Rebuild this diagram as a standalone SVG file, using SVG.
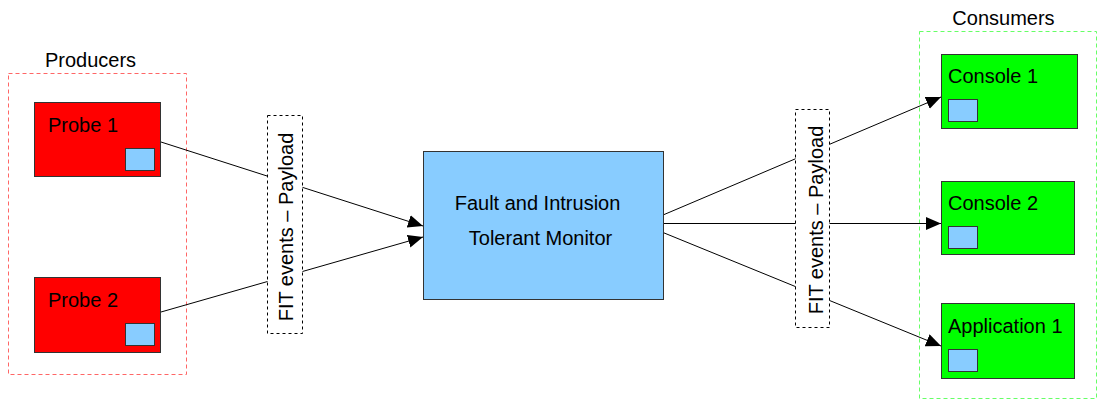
<svg xmlns="http://www.w3.org/2000/svg" width="1098" height="401" viewBox="0 0 1098 401">
  <style>
    text { font-family: "Liberation Sans", Arial, sans-serif; font-size: 20px; fill: #000; }
    .probe { fill: #ff0000; stroke: #333; stroke-width: 1; }
    .consumer { fill: #00ff00; stroke: #333; stroke-width: 1; }
    .port { fill: #88ccff; stroke: #333; stroke-width: 1; }
    .monitor { fill: #88ccff; stroke: #333; stroke-width: 1; }
    .edge { stroke: #000; stroke-width: 1; fill: none; marker-end: url(#arrow); }
    .edge-plain { stroke: #000; stroke-width: 1; fill: none; }
    .label-box { fill: #fff; stroke: #000; stroke-width: 1; stroke-dasharray: 3 3; }
  </style>
  <defs>
    <marker id="arrow" markerUnits="userSpaceOnUse" markerWidth="16" markerHeight="14" refX="15" refY="6.5" orient="auto">
      <path d="M0,0 L15,6.5 L0,13 z" fill="#000"/>
    </marker>
  </defs>

  <rect width="1098" height="401" fill="#fff"/>

  <!-- Groups -->
  <g id="producers-group">
    <rect x="8.5" y="73.5" width="178" height="301" fill="none" stroke="#ff6666" stroke-width="1" stroke-dasharray="4 3"/>
    <text x="90.5" y="66.5" text-anchor="middle">Producers</text>
  </g>
  <g id="consumers-group">
    <rect x="919.5" y="31.5" width="177" height="367" fill="none" stroke="#66ff66" stroke-width="1" stroke-dasharray="4 3"/>
    <text x="1003.5" y="24.5" text-anchor="middle">Consumers</text>
  </g>

  <!-- Connectors -->
  <g id="connectors">
    <line class="edge" x1="161" y1="142" x2="423" y2="226"/>
    <line class="edge" x1="161" y1="312" x2="423" y2="237"/>
    <line class="edge" x1="663" y1="215" x2="941" y2="97"/>
    <line class="edge" x1="663" y1="223.5" x2="941" y2="223.5"/>
    <line class="edge" x1="663" y1="232.5" x2="941" y2="346"/>
  </g>

  <!-- Edge labels -->
  <g id="label-in">
    <rect class="label-box" x="267.5" y="115.5" width="35" height="218"/>
    <text transform="translate(293,227) rotate(-90)" text-anchor="middle">FIT events – Payload</text>
  </g>
  <g id="label-out">
    <rect class="label-box" x="795.5" y="109.5" width="34" height="218"/>
    <text transform="translate(823,220) rotate(-90)" text-anchor="middle">FIT events – Payload</text>
  </g>

  <!-- Producers -->
  <g id="probe1">
    <rect class="probe" x="34.5" y="102.5" width="126" height="74"/>
    <text x="48" y="131.5">Probe 1</text>
    <rect class="port" x="125.5" y="148.5" width="29" height="22"/>
  </g>
  <g id="probe2">
    <rect class="probe" x="34.5" y="277.5" width="126" height="75"/>
    <text x="48" y="306.5">Probe 2</text>
    <rect class="port" x="125.5" y="323.5" width="29" height="22"/>
  </g>

  <!-- Monitor -->
  <g id="monitor">
    <rect class="monitor" x="423.5" y="151.5" width="240" height="148"/>
    <text x="537.5" y="210" text-anchor="middle">Fault and Intrusion</text>
    <text x="540.5" y="245" text-anchor="middle">Tolerant Monitor</text>
  </g>

  <!-- Consumers -->
  <g id="console1">
    <rect class="consumer" x="941.5" y="54.5" width="136" height="74"/>
    <text x="948" y="82.5">Console 1</text>
    <rect class="port" x="948.5" y="99.5" width="29" height="22"/>
  </g>
  <g id="console2">
    <rect class="consumer" x="941.5" y="181.5" width="133" height="73"/>
    <text x="948" y="210">Console 2</text>
    <rect class="port" x="948.5" y="226.5" width="29" height="22"/>
  </g>
  <g id="application1">
    <rect class="consumer" x="941.5" y="303.5" width="133" height="75"/>
    <text x="948" y="332.5">Application 1</text>
    <rect class="port" x="948.5" y="349.5" width="29" height="22"/>
  </g>
</svg>
